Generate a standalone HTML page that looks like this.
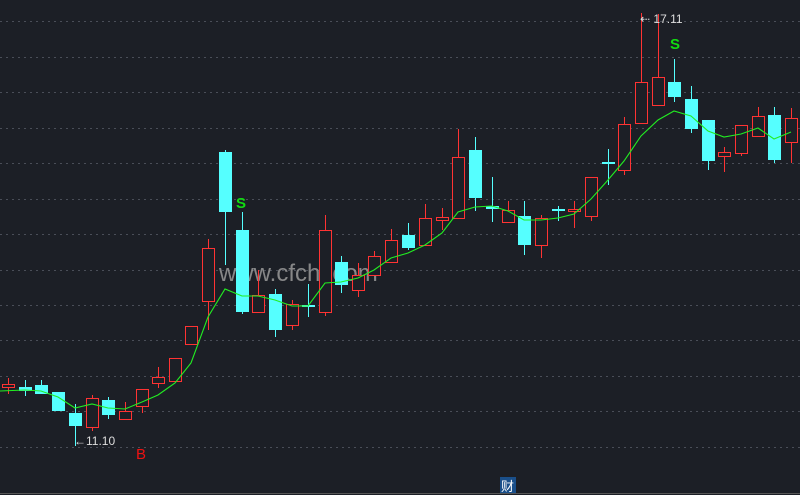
<!DOCTYPE html>
<html><head><meta charset="utf-8"><style>
html,body{margin:0;padding:0;background:#1c1f26;width:800px;height:495px;overflow:hidden}
svg{display:block}
</style></head><body>
<svg id="s" width="800" height="495" xmlns="http://www.w3.org/2000/svg">
<rect width="800" height="495" fill="#1c1f26"/>
<g id="grid" stroke="#4a4e58" stroke-width="1" stroke-dasharray="2,4"></g>
<text x="219" y="281" font-family="Liberation Sans, sans-serif" font-size="24" fill="#9a9a9a" opacity="0.85">www.cfchi.com</text>
<g id="c"></g>
<polyline id="ma" fill="none" stroke="#22ee22" stroke-width="1.1"/>
<text x="236" y="208" font-family="Liberation Sans, sans-serif" font-size="15" font-weight="bold" fill="#11dd11">S</text>
<text x="670" y="49" font-family="Liberation Sans, sans-serif" font-size="15" font-weight="bold" fill="#11dd11">S</text>
<text x="136" y="459" font-family="Liberation Sans, sans-serif" font-size="15" fill="#ee1111">B</text>
<text x="74" y="445" font-family="Liberation Sans, sans-serif" font-size="12" fill="#dddddd">←11.10</text>
<text x="640" y="23" font-family="Liberation Sans, sans-serif" font-size="12" fill="#dddddd">⇠ 17.11</text>
<line x1="0" y1="493.5" x2="800" y2="493.5" stroke="#555"/>
<rect x="500" y="477" width="16" height="16" fill="#1a4f8a"/>
<text x="501" y="491" font-family="Liberation Sans, 'Noto Sans CJK SC', sans-serif" font-size="13" fill="#ffffff">财</text>
</svg>
<script>
var g=document.getElementById('grid');
[21,57,92,128,163,199,234,270,305,340,376,411,447].forEach(function(y){
var l=document.createElementNS('http://www.w3.org/2000/svg','line');
l.setAttribute('x1',0);l.setAttribute('x2',800);l.setAttribute('y1',y+.5);l.setAttribute('y2',y+.5);g.appendChild(l);});
var d=[[8,'r',384,387,378,394],[25,'c',387,391,380,396],[41,'c',385,394,380,394],[58,'c',392,411,392,411],[75,'c',413,426,404,446],
[92,'r',398,427,395,431],[108,'c',400,415,397,419],[125,'r',411,419,402,419],[142,'r',389,406,389,413],[158,'r',377,383,367,388],
[175,'r',358,381,358,381],[191,'r',326,344,326,344],[208,'r',248,301,239,330],[225,'c',152,212,150,265],[242,'c',230,312,212,314],
[258,'r',295,312,270,312],[275,'c',294,330,289,337],[292,'r',304,325,300,330],[308,'c',305,307,284,317],[325,'r',230,312,215,316],
[341,'c',262,285,256,293],[358,'r',275,290,263,297],[374,'r',256,275,251,275],[391,'r',240,262,229,262],[408,'c',235,248,223,250],
[425,'r',218,245,204,245],[442,'r',217,220,208,230],[458,'r',157,218,129,218],[475,'c',150,198,137,211],[492,'c',206,209,177,222],
[508,'r',210,222,201,222],[524,'c',216,245,201,255],[541,'r',218,245,215,258],[558,'c',209,211,206,221],[574,'r',209,211,201,228],
[591,'r',177,216,177,221],[608,'c',162,164,149,185],[624,'r',124,170,117,175],[641,'r',82,123,13,123],[658,'r',77,105,14,105],
[674,'c',82,97,59,102],[691,'c',99,129,86,133],[708,'c',120,161,120,170],[724,'r',152,156,147,172],[741,'r',125,153,125,156],
[758,'r',116,136,107,136],[774,'c',115,160,107,163],[791,'r',118,142,108,163]];
var c=document.getElementById('c'),h='';
d.forEach(function(k){var x=k[0],col=k[1]=='r'?'#ff3333':'#55ffff';
h+='<line x1="'+(x+.5)+'" x2="'+(x+.5)+'" y1="'+k[4]+'" y2="'+k[5]+'" stroke="'+col+'"/>';
if(k[1]!='c')h+='<rect x="'+(x-5.5)+'" y="'+(k[2]+.5)+'" width="12" height="'+Math.max(1,k[3]-k[2])+'" fill="#1c1f26" stroke="'+col+'"/>';
else h+='<rect x="'+(x-6)+'" y="'+k[2]+'" width="13" height="'+Math.max(1.5,k[3]-k[2])+'" fill="'+col+'"/>';});
c.innerHTML=h;
var m=[[0,391],[25,390],[41,391],[58,397],[75,408],[92,404],[108,408],[125,409],[142,402],[158,395],[175,383],[191,363],[208,317],[225,289],[242,296],[258,296],[275,300],[292,306],[308,306],[325,283],[341,282],[358,278],[374,270],[391,258],[408,253],[425,245],[442,233],[458,212],[475,207],[492,206],[508,211],[524,220],[541,220],[558,218],[574,214],[591,199],[608,180],[624,161],[641,136],[658,120],[674,111],[691,116],[708,131],[724,137],[741,134],[758,128],[774,139],[791,132]];
document.getElementById('ma').setAttribute('points',m.map(function(p){return p.join(',')}).join(' '));
</script>
</body></html>
